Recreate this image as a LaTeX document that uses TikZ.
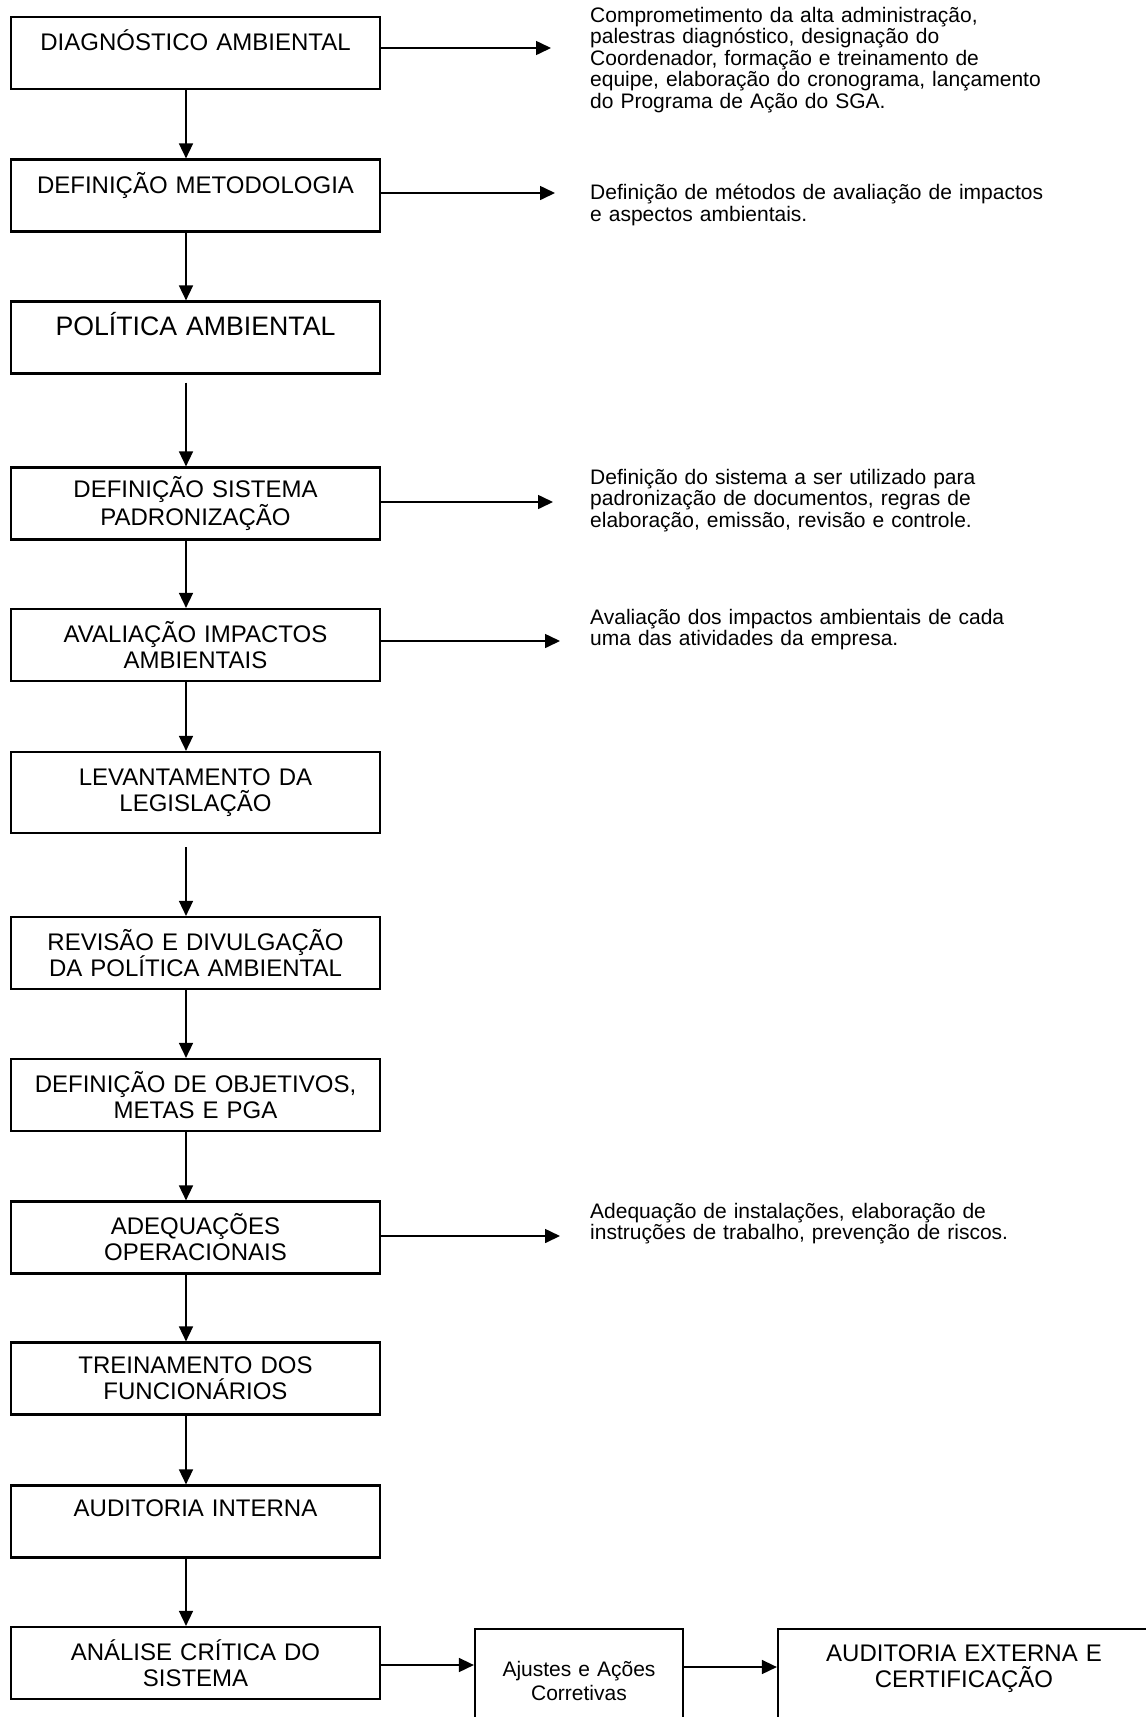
\documentclass[tikz,border=0pt]{standalone}
\usepackage{fontspec}
\setmainfont{Liberation Sans}
\usepackage{tikz}
\usetikzlibrary{calc, arrows.meta, positioning}

\newcommand{\etapafont}{\fontsize{24}{26}\selectfont}
\newcommand{\etapagrande}{\fontsize{26.7}{28}\selectfont}
\newcommand{\notafont}{\fontsize{21}{21.5}\selectfont}
\newcommand{\ajustefont}{\fontsize{21}{24}\selectfont}

\begin{document}
\begin{tikzpicture}[x=1pt, y=-1pt, >={Triangle[length=15pt, width=14pt]}]
		\tikzstyle{etapa} = [draw=black, rectangle, line width=2.2pt, minimum width=369pt, minimum height=72pt, text width=360pt, inner xsep=4.5pt, inner ysep=0pt, align=center, font=\etapafont]
		\tikzstyle{etapaaberta} = [draw=black, rectangle, line width=2.2pt, anchor=north, align=center]
		\tikzstyle{nota} = [anchor=north west, inner sep=0pt, text width=540pt, align=left, font=\notafont]
		\tikzstyle{arrow} = [line width=1.6pt, ->]
		
		\useasboundingbox (0, 0) rectangle (1146, 1717);
		\clip (0, 0) rectangle (1146, 1717);
		
		\node[etapa]	at (195.5, 53)		(diag)		{DIAGNÓSTICO AMBIENTAL\\ \mbox{}};
		\node[etapa]	at (195.5, 195.5)	(metod)		{DEFINIÇÃO METODOLOGIA\\ \mbox{}};
		\node[etapa, font=\etapagrande]	at (195.5, 337.5)	(polit)	{POLÍTICA AMBIENTAL\\ \mbox{}};
		\node[etapa]	at (195.5, 503.5)	(padron)	{DEFINIÇÃO SISTEMA\\PADRONIZAÇÃO};
		\node[etapa]	at (195.5, 645)		(impac)		{AVALIAÇÃO IMPACTOS\\AMBIENTAIS};
		\node[etapa, minimum height=81pt]	at (195.5, 792.5)	(legis)	{LEVANTAMENTO DA\\LEGISLAÇÃO};
		\node[etapa]	at (195.5, 953)		(revis)		{REVISÃO E DIVULGAÇÃO\\DA POLÍTICA AMBIENTAL};
		\node[etapa]	at (195.5, 1095)	(objet)		{DEFINIÇÃO DE OBJETIVOS,\\METAS E PGA};
		\node[etapa]	at (195.5, 1237.5)	(adequ)		{ADEQUAÇÕES\\OPERACIONAIS};
		\node[etapa]	at (195.5, 1378.5)	(trein)		{TREINAMENTO DOS\\FUNCIONÁRIOS};
		\node[etapa]	at (195.5, 1521.5)	(audint)	{AUDITORIA INTERNA\\ \mbox{}};
		\node[etapa]	at (195.5, 1663)	(anali)		{ANÁLISE CRÍTICA DO\\SISTEMA};
		
		\node[etapaaberta, font=\ajustefont, text width=200pt, inner xsep=4pt, inner ysep=32pt, text depth=60pt]	at (579, 1628)	(ajust)	{Ajustes e Ações\\Corretivas};
		\node[etapaaberta, font=\etapafont, text width=364pt, inner xsep=4pt, inner ysep=16pt, text depth=80pt]	at (964, 1628)	(ext)	{AUDITORIA EXTERNA E\\CERTIFICAÇÃO};
		
		\node[nota]	at (590, 7)		(nota1)	{Comprometimento da alta administração,\\palestras diagnóstico, designação do\\Coordenador, formação e treinamento de\\equipe, elaboração do cronograma, lançamento\\do Programa de Ação do SGA.};
		\node[nota]	at (590, 184)	(nota2)	{Definição de métodos de avaliação de impactos\\e aspectos ambientais.};
		\node[nota]	at (590, 469)	(nota4)	{Definição do sistema a ser utilizado para\\padronização de documentos, regras de\\elaboração, emissão, revisão e controle.};
		\node[nota]	at (590, 609)	(nota5)	{Avaliação dos impactos ambientais de cada\\uma das atividades da empresa.};
		\node[nota]	at (590, 1203)	(nota9)	{Adequação de instalações, elaboração de\\instruções de trabalho, prevenção de riscos.};
		
		\coordinate (fim1) at (551, 48);
		\coordinate (fim2) at (555, 193);
		\coordinate (fim4) at (553, 502);
		\coordinate (fim5) at (560, 641);
		\coordinate (fim9) at (560, 1236);
		\coordinate (h12) at (0, 1665);
		\coordinate (h13) at (0, 1667);
		
		\draw [arrow] ([xshift=-9.5pt]diag.south) -- ([xshift=-9.5pt]metod.north);
		\draw [arrow] ([xshift=-9.5pt]metod.south) -- ([xshift=-9.5pt]polit.north);
		\draw [arrow] ([xshift=-9.5pt, yshift=-8pt]polit.south) -- ([xshift=-9.5pt]padron.north);
		\draw [arrow] ([xshift=-9.5pt]padron.south) -- ([xshift=-9.5pt]impac.north);
		\draw [arrow] ([xshift=-9.5pt]impac.south) -- ([xshift=-9.5pt]legis.north);
		\draw [arrow] ([xshift=-9.5pt, yshift=-13pt]legis.south) -- ([xshift=-9.5pt]revis.north);
		\draw [arrow] ([xshift=-9.5pt]revis.south) -- ([xshift=-9.5pt]objet.north);
		\draw [arrow] ([xshift=-9.5pt]objet.south) -- ([xshift=-9.5pt]adequ.north);
		\draw [arrow] ([xshift=-9.5pt]adequ.south) -- ([xshift=-9.5pt]trein.north);
		\draw [arrow] ([xshift=-9.5pt]trein.south) -- ([xshift=-9.5pt]audint.north);
		\draw [arrow] ([xshift=-9.5pt]audint.south) -- ([xshift=-9.5pt]anali.north);
		
		\draw [arrow] (diag.east |- fim1) -- (fim1);
		\draw [arrow] (metod.east |- fim2) -- (fim2);
		\draw [arrow] (padron.east |- fim4) -- (fim4);
		\draw [arrow] (impac.east |- fim5) -- (fim5);
		\draw [arrow] (adequ.east |- fim9) -- (fim9);
		
		\draw [arrow] (anali.east |- h12) -- (ajust.west |- h12);
		\draw [arrow] (ajust.east |- h13) -- (ext.west |- h13);
	\end{tikzpicture}
\end{document}
